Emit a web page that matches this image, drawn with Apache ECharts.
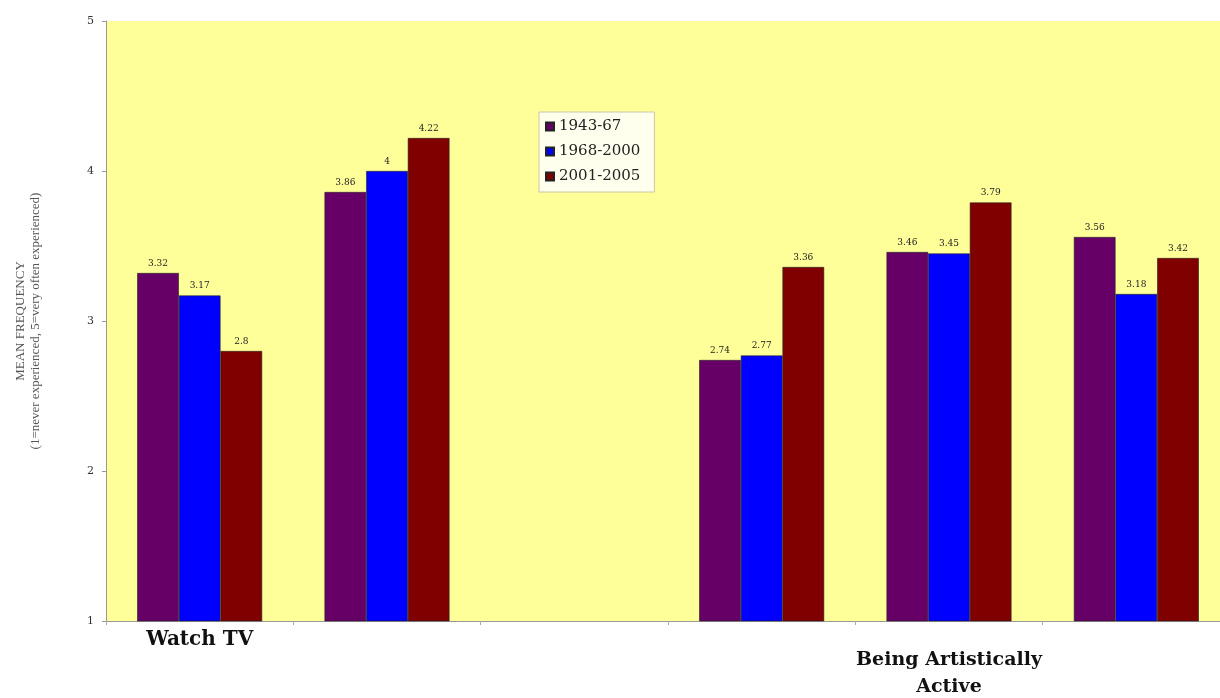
<!DOCTYPE html>
<html><head><meta charset="utf-8">
<script src="https://cdn.jsdelivr.net/npm/echarts@6/dist/echarts.min.js"></script>
<style>html,body{margin:0;padding:0;background:#fff;overflow:hidden}#c{width:1230px;height:698px}</style>
</head><body><div id="c"></div>
<script>
const categories = ['Watch TV', '', '', '', 'Being Artistically\nActive', ''];
const seriesNames = ['1943-67', '1968-2000', '2001-2005'];
const s1943 = [3.32, 3.86, null, 2.74, 3.46, 3.56];
const s1968 = [3.17, 4, null, 2.77, 3.45, 3.18];
const s2001 = [2.8, 4.22, null, 3.36, 3.79, 3.42];
const yTicks = [1, 2, 3, 4, 5];
const colors = ['#660066', '#0000FF', '#800000'];

const serif = 'DejaVu Serif';
const chart = echarts.init(document.getElementById('c'));
const mk = (name, data, color) => ({
  name, type: 'bar', data, barGap: '0%', barCategoryGap: '33.3%',
  itemStyle: { color, borderColor: '#222', borderWidth: 0.6 },
  label: { show: true, position: 'top', distance: 5, fontFamily: serif, fontSize: 9, color: '#222' }
});
chart.setOption({
  animation: false,
  backgroundColor: '#fff',
  legend: {
    orient: 'vertical', left: 539, top: 112, itemWidth: 8, itemHeight: 8, itemGap: 10,
    backgroundColor: '#FFFFEE', borderColor: '#C8C8A8', borderWidth: 1, padding: [7, 14, 8, 6],
    icon: 'rect',
    textStyle: { fontFamily: serif, fontSize: 15, color: '#222' },
    data: seriesNames
  },
  grid: { left: 106, top: 21, right: 0, height: 600, show: true, backgroundColor: '#FFFF99', borderWidth: 0 },
  xAxis: {
    type: 'category', data: categories,
    axisLine: { lineStyle: { color: '#999' } },
    axisTick: { show: true, interval: 0, length: 4, lineStyle: { color: '#aaa' } },
    axisLabel: {
      interval: 0, margin: 7,
      formatter: v => {
        if (v === '') return '';
        const parts = v.split('\n');
        if (parts.length > 1) return '{s| }\n' + parts.map(p => '{b|' + p + '}').join('\n');
        return '{a|' + v + '}';
      },
      rich: {
        a: { fontFamily: serif, fontWeight: 'bold', fontSize: 20, color: '#111', lineHeight: 24 },
        b: { fontFamily: serif, fontWeight: 'bold', fontSize: 19, color: '#111', lineHeight: 27 },
        s: { fontSize: 1, lineHeight: 19 }
      }
    }
  },
  yAxis: {
    type: 'value', min: yTicks[0], max: yTicks[yTicks.length - 1], interval: 1,
    name: 'MEAN FREQUENCY\n(1=never experienced, 5=very often experienced)',
    nameLocation: 'middle', nameRotate: 90, nameGap: 63,
    nameTextStyle: { fontFamily: 'Liberation Serif', fontSize: 13, color: '#555', lineHeight: 15 },
    axisLine: { show: true, lineStyle: { color: '#999' } },
    axisTick: { show: true, length: 4, lineStyle: { color: '#999' } },
    splitLine: { show: false },
    axisLabel: { fontFamily: serif, fontSize: 11, color: '#333', margin: 12 }
  },
  series: [mk(seriesNames[0], s1943, colors[0]), mk(seriesNames[1], s1968, colors[1]), mk(seriesNames[2], s2001, colors[2])]
});
</script></body></html>
